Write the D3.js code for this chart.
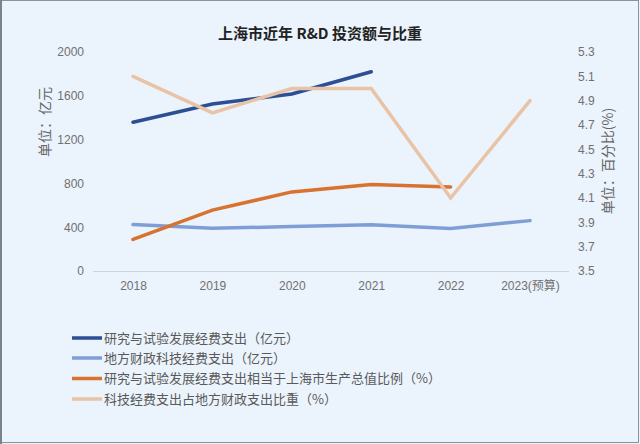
<!DOCTYPE html>
<html><head><meta charset="utf-8">
<script src="https://cdn.jsdelivr.net/npm/d3@7"></script>
<style>
html,body{margin:0;padding:0;background:#fff;}
svg{display:block;}
</style></head>
<body>
<script>
const categories = ["2018","2019","2020","2021","2022","2023(预算)"];
const rdSpend    = [1359, 1525, 1616, 1820, null, null];       // 亿元
const govSciTech = [424, 390, 406, 423, 388, 460];             // 亿元
const rdGdpRatio = [3.76, 4.00, 4.15, 4.21, 4.19, null];       // %
const sciShare   = [5.1, 4.8, 5.0, 5.0, 4.1, 4.9];             // %
const leftTicks  = [0, 400, 800, 1200, 1600, 2000];
const rightTicks = [3.5, 3.7, 3.9, 4.1, 4.3, 4.5, 4.7, 4.9, 5.1, 5.3];
const seriesNames = [
  "研究与试验发展经费支出（亿元）",
  "地方财政科技经费支出（亿元）",
  "研究与试验发展经费支出相当于上海市生产总值比例（%）",
  "科技经费支出占地方财政支出比重（%）"
];

const W = 640, H = 444;
const colors = ["#2B4E95", "#7F9ED6", "#D8722F", "#E9C3A6"];
const svg = d3.select("body").append("svg").attr("width", W).attr("height", H);

svg.append("rect").attr("x",0).attr("y",0).attr("width",W).attr("height",H).attr("fill","#EBF3FC");
// frame
svg.append("rect").attr("x",0.5).attr("y",0.5).attr("width",W-2).attr("height",H-2)
  .attr("fill","none").attr("stroke","#8A929C").attr("stroke-width",1);
svg.append("line").attr("x1",1).attr("x2",1).attr("y1",0).attr("y2",H).attr("stroke","#7A828C").attr("stroke-width",2);

const x = d3.scalePoint().domain(categories).range([133, 530]);
const yL = d3.scaleLinear().domain([0, 2000]).range([271, 52]);
const yR = d3.scaleLinear().domain([3.5, 5.3]).range([271, 52]);

const font = "'Noto Sans CJK SC', 'Noto Sans', sans-serif";

svg.append("text").attr("x", 320).attr("y", 39).attr("text-anchor","middle")
  .attr("font-family", font).attr("font-weight","bold").attr("font-size",15).attr("fill","#222")
  .text("上海市近年 R&D 投资额与比重");

// baseline
svg.append("line").attr("x1",93).attr("x2",569).attr("y1",271.5).attr("y2",271.5)
  .attr("stroke","#CDD3DB").attr("stroke-width",1);

// left axis
const gL = svg.append("g").attr("transform","translate(84,0)")
  .call(d3.axisLeft(yL).tickValues(leftTicks).tickSize(0).tickPadding(0).tickFormat(d3.format("d")));
gL.select(".domain").remove();
gL.selectAll("text").attr("font-family","'Liberation Sans', Arial, sans-serif").attr("font-size",12).attr("fill","#707070");

// right axis
const gR = svg.append("g").attr("transform","translate(578,0)")
  .call(d3.axisRight(yR).tickValues(rightTicks).tickSize(0).tickPadding(0).tickFormat(d3.format(".1f")));
gR.select(".domain").remove();
gR.selectAll("text").attr("font-family","'Liberation Sans', Arial, sans-serif").attr("font-size",12).attr("fill","#707070");

// bottom axis
const gB = svg.append("g").attr("transform","translate(0,271)")
  .call(d3.axisBottom(x).tickSize(0).tickPadding(10));
gB.select(".domain").remove();
gB.selectAll("text").attr("font-family","'Liberation Sans', 'Noto Sans CJK SC', sans-serif").attr("font-size",12).attr("fill","#707070");

// axis titles
svg.append("text").attr("transform","translate(50,122) rotate(-90)").attr("text-anchor","middle")
  .attr("font-family",font).attr("font-size",14).attr("fill","#666").text("单位：亿元");
svg.append("text").attr("transform","translate(613,161) rotate(-90)").attr("text-anchor","middle")
  .attr("font-family",font).attr("font-size",14).attr("fill","#666").text("单位：百分比(%)");

const series = [
  {vals: rdSpend, y: yL},
  {vals: govSciTech, y: yL},
  {vals: rdGdpRatio, y: yR},
  {vals: sciShare, y: yR}
];
// draw order: light blue, orange, dark blue, beige
[1,2,0,3].forEach(i => {
  const s = series[i];
  const pts = categories.map((c,j)=>[c, s.vals[j]]);
  const line = d3.line().defined(d=>d[1]!=null).x(d=>x(d[0])).y(d=>s.y(d[1]));
  svg.append("path").datum(pts).attr("d", line).attr("fill","none")
    .attr("stroke", colors[i]).attr("stroke-width", 3.5).attr("stroke-linejoin","miter").attr("stroke-linecap","round");
});

// legend
const legY = [338, 358, 378.5, 399];
seriesNames.forEach((n,i)=>{
  svg.append("line").attr("x1",72).attr("x2",102).attr("y1",legY[i]).attr("y2",legY[i])
    .attr("stroke",colors[i]).attr("stroke-width",3.5);
  svg.append("text").attr("x",104).attr("y",legY[i]).attr("dy","0.36em")
    .attr("font-family",font).attr("font-size",13).attr("fill","#5A5A5A").text(n);
});
</script>
</body></html>
